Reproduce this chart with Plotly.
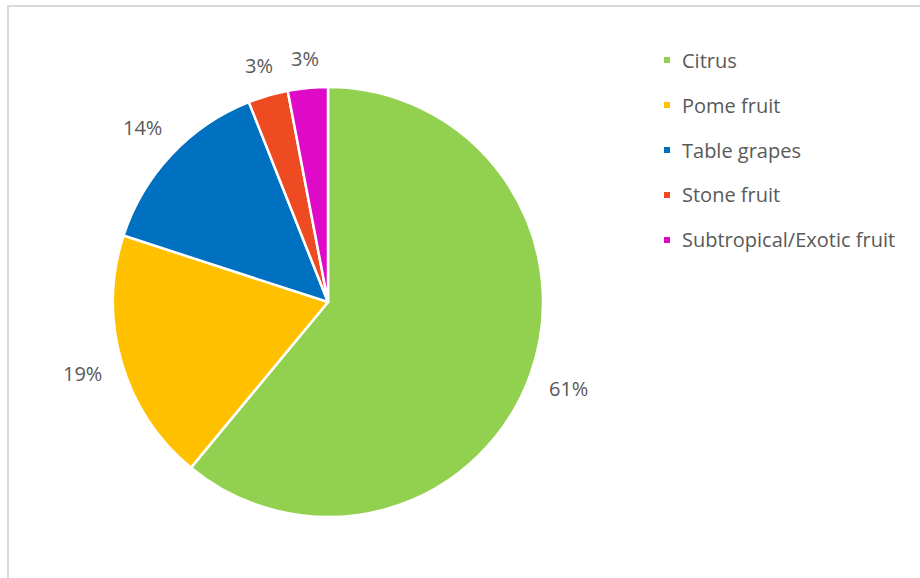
import math
import plotly.graph_objects as go

# Fruit export shares by category
categories = ["Citrus", "Pome fruit", "Table grapes", "Stone fruit", "Subtropical/Exotic fruit"]
shares = [61, 19, 14, 3, 3]
colors = ["#92D050", "#FFC000", "#0070C0", "#EE4B23", "#DE0AC8"]

W, H = 920, 578
cx, cy, r = 328, 302, 215  # pie centre and radius in pixels
text_color = "#595959"
font_family = "Open Sans, Calibri, Arial, sans-serif"

fig = go.Figure(
    go.Pie(
        labels=categories,
        values=shares,
        marker=dict(colors=colors, line=dict(color="white", width=2.5)),
        sort=False,
        direction="clockwise",
        rotation=0,
        textinfo="none",
        hoverinfo="label+percent",
        showlegend=False,
        domain=dict(x=[(cx - r) / W, (cx + r) / W], y=[(H - cy - r) / H, (H - cy + r) / H]),
    )
)

# Percentage labels placed just outside each slice, at its mid-angle
total = sum(shares)
start = 0.0
for v in shares:
    frac = v / total
    mid = (start + frac / 2) * 2 * math.pi
    start += frac
    label = f"{round(100 * frac)}%"
    hw = 20 if len(label) > 2 else 13
    hh = 9
    sx, cyv = math.sin(mid), math.cos(mid)
    d = r + 19 + hw * abs(sx) + hh * abs(cyv)
    px = cx + d * sx
    py = cy - d * cyv
    fig.add_annotation(
        x=px / W, y=1 - py / H, xref="paper", yref="paper",
        text=label, showarrow=False, xanchor="center", yanchor="middle",
        font=dict(family=font_family, size=20, color=text_color),
    )

# Legend: small colour squares with category names
lx, ly0, step, sq = 667, 60, 45, 6
for i, (name, col) in enumerate(zip(categories, colors)):
    y = ly0 + i * step
    fig.add_shape(
        type="rect", xref="paper", yref="paper",
        x0=(lx - sq / 2) / W, x1=(lx + sq / 2) / W,
        y0=1 - (y + sq / 2) / H, y1=1 - (y - sq / 2) / H,
        fillcolor=col, line=dict(width=0),
    )
    fig.add_annotation(
        x=680 / W, y=1 - y / H, xref="paper", yref="paper",
        text=name, showarrow=False, xanchor="left", yanchor="middle",
        font=dict(family=font_family, size=20, color=text_color),
    )

# Chart-area frame
fig.add_shape(
    type="rect", xref="paper", yref="paper",
    x0=8 / W, x1=1.02, y0=-0.02, y1=1 - 6 / H,
    line=dict(color="#D9D9D9", width=2), fillcolor="rgba(0,0,0,0)", layer="below",
)

fig.update_layout(
    width=W, height=H,
    margin=dict(l=0, r=0, t=0, b=0),
    paper_bgcolor="white", plot_bgcolor="white",
)

fig.write_html("out.html")
